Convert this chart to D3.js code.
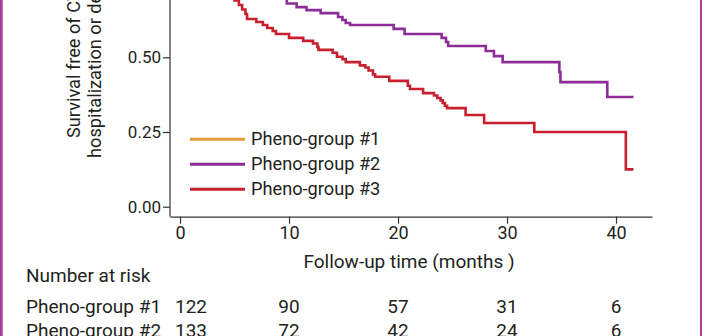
<!DOCTYPE html>
<html>
<head>
<meta charset="utf-8">
<script src="https://cdn.jsdelivr.net/npm/d3@7"></script>
<style>
  html, body { margin: 0; padding: 0; background: #fff; }
  svg { display: block; }
  text { fill: #231f20; }
</style>
</head>
<body>
<div id="km"></div>
<script>
// Kaplan-Meier data (time in months, survival after each drop)
var groups = ["Pheno-group #1", "Pheno-group #2", "Pheno-group #3"];
var colors = ["#e39a3b", "#8b2d97", "#c8202f"];

var g1Times = [0, 2, 4, 6, 9, 12, 15, 19, 23, 28, 33, 38];
var g1Surv  = [1, 0.98, 0.96, 0.95, 0.93, 0.91, 0.89, 0.87, 0.85, 0.83, 0.81, 0.79];
var g1End = 41.5;

var g2Times = [0, 0.8, 1.5, 2.3, 3.0, 3.8, 4.6, 5.5, 6.3, 7.1, 7.9, 8.6, 9.2, 9.8, 10.7, 11.6, 12.9,
               14.5, 14.9, 15.2, 15.6, 19.6, 20.6, 24.0, 24.4, 24.6, 28.05, 28.8, 29.6, 34.8, 34.9, 39.2];
var g2Surv  = [1, 0.98, 0.96, 0.93, 0.91, 0.88, 0.85, 0.82, 0.79, 0.76, 0.74, 0.72, 0.70, 0.68, 0.668, 0.658, 0.648,
               0.635, 0.625, 0.615, 0.608, 0.595, 0.578, 0.565, 0.551, 0.538, 0.521, 0.504, 0.484, 0.451, 0.417, 0.367];
var g2End = 41.6;

var g3Times = [0, 1.0, 1.8, 2.5, 3.2, 3.8, 4.3, 4.7, 5.0, 5.4, 5.7, 6.0, 6.15, 7.0, 7.6, 8.0, 8.5, 8.8,
               10.0, 11.3, 12.2, 12.6, 12.7, 14.0, 14.4, 14.9, 15.2, 16.5, 17.0, 17.3, 17.7, 17.9, 19.2,
               20.9, 21.1, 22.3, 23.3, 23.6, 23.9, 24.1, 24.3, 24.5, 26.2, 27.9, 32.5, 40.9];
var g3Surv  = [1, 0.97, 0.93, 0.89, 0.84, 0.80, 0.76, 0.72, 0.69, 0.675, 0.66, 0.645, 0.628, 0.618, 0.608, 0.598, 0.588, 0.578,
               0.565, 0.555, 0.546, 0.535, 0.525, 0.515, 0.502, 0.494, 0.484, 0.473, 0.466, 0.456, 0.443, 0.435, 0.421,
               0.405, 0.394, 0.38, 0.372, 0.364, 0.356, 0.347, 0.338, 0.33, 0.307, 0.28, 0.25, 0.125];
var g3End = 41.6;

// Number at risk
var riskTimes = [0, 10, 20, 30, 40];
var riskG1 = [122, 90, 57, 31, 6];
var riskG2 = [133, 72, 42, 24, 6];

var xTicks = [0, 10, 20, 30, 40];
var yTicks = [0, 0.25, 0.5, 0.75, 1];

var W = 702, H = 336;
var svg = d3.select("#km")
  .append("svg")
    .attr("width", W)
    .attr("height", H);

// scales
var x = d3.scaleLinear().domain([-0.92, 43.3]).range([170, 652]);
var y = d3.scaleLinear().domain([0, 1]).range([206.7, -92.1]);
var axisY = 216.7;

// frame (magenta border of the figure)
svg.append("rect").attr("x", 0).attr("y", 0).attr("width", 2.7).attr("height", H).attr("fill", "#a93c9c");
svg.append("rect").attr("x", 700).attr("y", 0).attr("width", 2).attr("height", H).attr("fill", "#a93c9c");

// X axis
var gx = svg.append("g")
  .attr("transform", "translate(0," + axisY + ")")
  .call(d3.axisBottom(x).tickValues(xTicks).tickSize(7).tickSizeOuter(0).tickPadding(3));
gx.select(".domain").attr("stroke", "#333").attr("stroke-width", 1.2);
gx.selectAll(".tick line").attr("stroke", "#333").attr("stroke-width", 1.2);
gx.selectAll("text")
  .attr("font-family", "Roboto, sans-serif")
  .attr("font-size", "18px")
  .attr("fill", "#231f20");

// Y axis
var gy = svg.append("g")
  .attr("transform", "translate(170,0)")
  .call(d3.axisLeft(y).tickValues(yTicks).tickFormat(d3.format(".2f")).tickSize(7).tickPadding(2));
gy.select(".domain").remove();
gy.selectAll(".tick line").attr("stroke", "#333").attr("stroke-width", 1.2);
gy.selectAll("text")
  .attr("font-family", "Roboto, sans-serif")
  .attr("font-size", "17px")
  .attr("fill", "#231f20");
svg.append("line")
  .attr("x1", 170).attr("x2", 170)
  .attr("y1", axisY).attr("y2", y(1) - 5)
  .attr("stroke", "#333").attr("stroke-width", 1.2);

// Y axis title (two lines)
svg.append("text")
  .attr("transform", "translate(80,138)rotate(-90)")
  .attr("font-family", "Roboto, sans-serif")
  .attr("font-size", "18.2px")
  .text("Survival free of CV");
svg.append("text")
  .attr("transform", "translate(100.5,158)rotate(-90)")
  .attr("font-family", "Roboto, sans-serif")
  .attr("font-size", "18.2px")
  .text("hospitalization or death");

// X axis title
svg.append("text")
  .attr("x", 409).attr("y", 268)
  .attr("text-anchor", "middle")
  .attr("font-family", "Roboto, sans-serif")
  .attr("font-size", "19px")
  .text("Follow-up time (months )");

// curves
function kmData(times, surv, end) {
  var pts = times.map(function(t, i) { return [t, surv[i]]; });
  pts.push([end, surv[surv.length - 1]]);
  return pts;
}
var series = [
  kmData(g1Times, g1Surv, g1End),
  kmData(g2Times, g2Surv, g2End),
  kmData(g3Times, g3Surv, g3End)
];
var line = d3.line()
  .x(function(d) { return x(d[0]); })
  .y(function(d) { return y(d[1]); })
  .curve(d3.curveStepAfter);

svg.selectAll(".km")
  .data(series)
  .enter()
  .append("path")
    .attr("class", "km")
    .attr("d", line)
    .attr("fill", "none")
    .attr("stroke", function(d, i) { return colors[i]; })
    .attr("stroke-width", 2.6);

// legend
var leg = svg.selectAll(".leg")
  .data(groups)
  .enter()
  .append("g")
    .attr("class", "leg")
    .attr("transform", function(d, i) { return "translate(190," + (139.3 + i * 25) + ")"; });
leg.append("line")
  .attr("x1", 0).attr("x2", 55)
  .attr("stroke", function(d, i) { return colors[i]; })
  .attr("stroke-width", 3);
leg.append("text")
  .attr("x", 61).attr("y", 5.8)
  .attr("font-family", "Roboto, sans-serif")
  .attr("font-size", "18.2px")
  .text(function(d) { return d; });

// number at risk table
svg.append("text")
  .attr("x", 26).attr("y", 281.7)
  .attr("font-family", "Roboto, sans-serif")
  .attr("font-size", "19px")
  .text("Number at risk");

var rows = [riskG1, riskG2];
rows.forEach(function(r, i) {
  var yy = 313.3 + i * 24;
  svg.append("text")
    .attr("x", 26).attr("y", yy)
    .attr("font-family", "Roboto, sans-serif")
    .attr("font-size", "19px")
    .text(groups[i]);
  svg.selectAll(".risk" + i)
    .data(r)
    .enter()
    .append("text")
      .attr("class", "risk" + i)
      .attr("x", function(d, j) { return x(riskTimes[j]) + (j === 0 ? 11 : 0); })
      .attr("y", yy)
      .attr("text-anchor", "middle")
      .attr("font-family", "Roboto, sans-serif")
      .attr("font-size", "19px")
      .text(function(d) { return d; });
});
</script>
</body>
</html>
